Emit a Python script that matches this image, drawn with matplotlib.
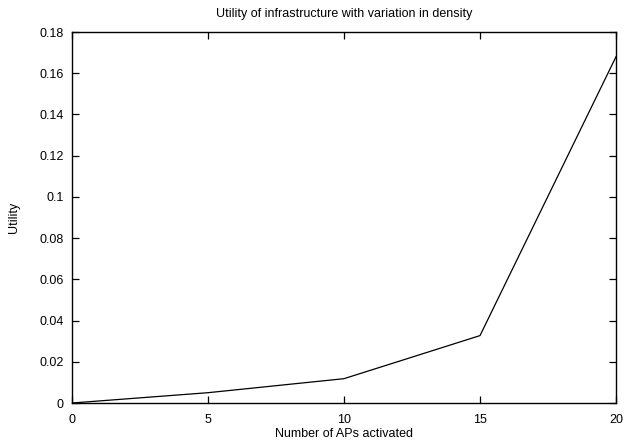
import matplotlib
matplotlib.use("Agg")
import matplotlib.pyplot as plt

# values
aps = [0, 5, 10, 15, 20]
utility = [0.0, 0.005, 0.0118, 0.0327, 0.168]
xticks = [0, 5, 10, 15, 20]
yticks = [0, 0.02, 0.04, 0.06, 0.08, 0.1, 0.12, 0.14, 0.16, 0.18]
ytick_labels = ["0", "0.02", "0.04", "0.06", "0.08", "0.1", "0.12", "0.14", "0.16", "0.18"]

plt.rcParams['font.family'] = ['Liberation Sans', 'DejaVu Sans']
plt.rcParams['font.size'] = 9

W, H = 627, 444
fig = plt.figure(figsize=(W/100, H/100), dpi=100)
ax = fig.add_axes([72/W, 1 - 403/H, (616-72)/W, (403-32)/H])
ax.plot(aps, utility, color='black', linewidth=0.9)

ax.set_xlim(0, 20)
ax.set_ylim(0, 0.18)
ax.set_xticks(xticks)
ax.set_yticks(yticks)
ax.set_yticklabels(ytick_labels)
ax.tick_params(direction='in', length=5, width=0.9, top=True, right=True)
ax.tick_params(axis='y', pad=6)
ax.tick_params(axis='x', pad=8)
for s in ax.spines.values():
  s.set_linewidth(1.0)

# labels placed in pixel terms like the gnuplot original
fig.text(344/W, 1 - 14/H, "Utility of infrastructure with variation in density", ha='center', va='center')
fig.text(344/W, 1 - 434/H, "Number of APs activated", ha='center', va='center')
fig.text(14/W, 1 - 217/H, "Utility", ha='center', va='center', rotation=90)

fig.savefig("out.png", dpi=100)
